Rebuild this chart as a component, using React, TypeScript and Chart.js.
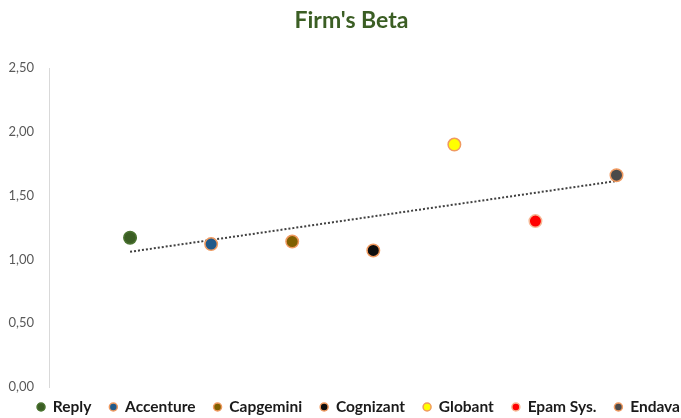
import React, { useEffect, useRef } from "react";
import { Chart, registerables } from "chart.js";

Chart.register(...registerables);

const firms = ["Reply", "Accenture", "Capgemini", "Cognizant", "Globant", "Epam Sys.", "Endava"];
const betas = [1.17, 1.12, 1.14, 1.07, 1.9, 1.3, 1.66];
const fillColors = ["#3b5e24", "#215a8a", "#806000", "#0d0d0d", "#ffff00", "#ff0000", "#4a4a4a"];
const ringColors = ["#4a7330", "#f09a60", "#f09a60", "#f09a60", "#f09a60", "#f6b896", "#f09a60"];
const yTicks = [0, 0.5, 1, 1.5, 2, 2.5];

const FONT = "Lato, 'Noto Sans', sans-serif";

export default function App() {
  const ref = useRef<HTMLCanvasElement | null>(null);

  useEffect(() => {
    document.body.style.margin = "0";
    const canvas = ref.current;
    if (!canvas) return;

    const xs = betas.map((_, i) => i + 1);
    const n = xs.length;
    const mx = xs.reduce((a, b) => a + b, 0) / n;
    const my = betas.reduce((a, b) => a + b, 0) / n;
    let sxy = 0;
    let sxx = 0;
    xs.forEach((x, i) => {
      sxy += (x - mx) * (betas[i] - my);
      sxx += (x - mx) * (x - mx);
    });
    const slope = sxy / sxx;
    const icpt = my - slope * mx;
    const trend = [xs[0], xs[n - 1]].map((x) => ({ x, y: icpt + slope * x }));

    const side = -20;
    const yAxisW = 49 - side;
    const xMax = 7.7;

    const datasets: any[] = firms.map((name, i) => ({
      type: "scatter",
      label: name,
      data: [{ x: i + 1, y: betas[i] }],
      pointRadius: 6.25,
      pointHoverRadius: 6.25,
      pointBackgroundColor: fillColors[i],
      pointBorderColor: ringColors[i],
      pointBorderWidth: 1.5,
      backgroundColor: fillColors[i],
      borderColor: ringColors[i],
      borderWidth: 1.5,
      order: 1,
    }));
    datasets.push({
      type: "line",
      label: "trend",
      data: trend,
      borderColor: "#404040",
      borderWidth: 2,
      borderDash: [2, 2],
      pointRadius: 0,
      fill: false,
      order: 2,
    });

    const shiftBoxes = {
      id: "shiftBoxes",
      afterLayout(chart: any) {
        const lg = chart.legend;
        if (lg) {
          lg.top -= 5.75;
          lg.bottom -= 5.75;
          lg.left += 18;
          lg.right += 18;
        }
        const tt = chart.titleBlock;
        if (tt) {
          tt.left += 11;
          tt.right += 11;
        }
      },
    };

    const chart = new Chart(canvas, {
      type: "scatter",
      data: { datasets },
      plugins: [shiftBoxes],
      options: {
        animation: false,
        responsive: false,
        maintainAspectRatio: false,
        layout: { padding: { left: side, right: side, top: 0, bottom: -12.5 } },
        scales: {
          x: {
            type: "linear",
            display: false,
            min: 0,
            max: xMax,
          },
          y: {
            min: 0,
            max: 2.5,
            afterFit: (s: any) => {
              s.width = yAxisW;
            },
            afterBuildTicks: (s: any) => {
              s.ticks = yTicks.map((v) => ({ value: v }));
            },
            grid: { display: false, drawTicks: false },
            border: { display: true, color: "#d9d9d9", width: 1 },
            ticks: {
              padding: 15,
              color: "#595959",
              font: { family: FONT, size: 13 },
              callback: (v: any) => Number(v).toFixed(2).replace(".", ","),
            },
          },
        },
        plugins: {
          title: {
            display: true,
            text: "Firm's Beta",
            color: "#3b5e24",
            font: { family: FONT, size: 23, weight: "bold" },
            padding: { top: 7, bottom: 33.4 },
          },
          legend: {
            display: true,
            position: "bottom",
            labels: {
              usePointStyle: true,
              pointStyle: "circle",
              boxWidth: 8,
              boxHeight: 5.66,
              padding: 18,
              color: "#1a1a1a",
              font: { family: FONT, size: 15.5, weight: "bold" },
              filter: (item: any) => item.text !== "trend",
            },
          },
          tooltip: { enabled: false },
        },
      },
    });
    return () => chart.destroy();
  }, []);

  return (
    <div style={{ width: 681, height: 418, position: "relative", background: "#fff" }}>
      <canvas ref={ref} width={681} height={418} style={{ display: "block" }} />
    </div>
  );
}
